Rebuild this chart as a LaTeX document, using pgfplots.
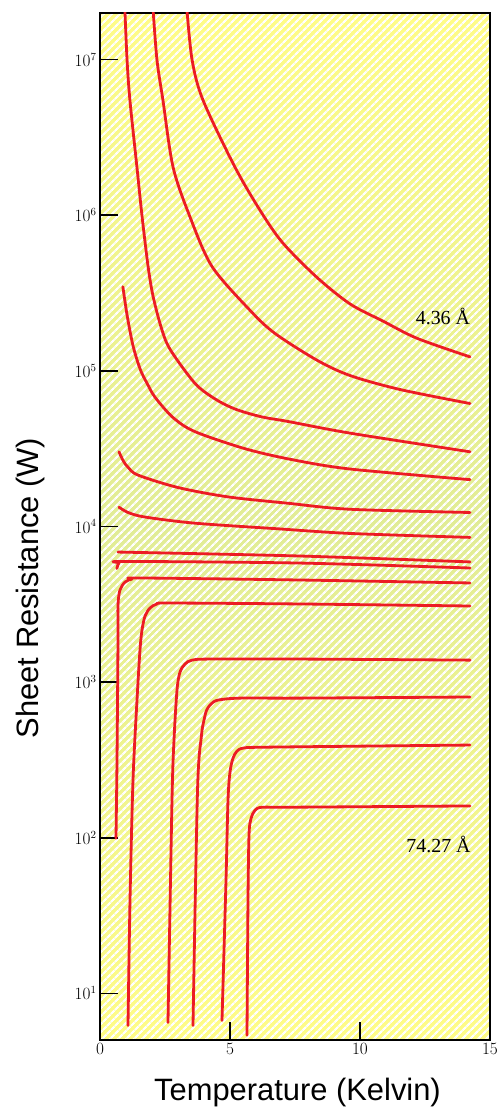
\documentclass[border=0pt]{standalone}
\usepackage{pgfplots}
\pgfplotsset{compat=1.18}
\usepackage{fontspec}
\setmainfont{Liberation Serif}
\newfontfamily\arialfont{Liberation Sans}
\usetikzlibrary{patterns.meta}
\definecolor{curvered}{RGB}{236,28,36}
\definecolor{bgyellow}{RGB}{255,252,135}
\definecolor{bggreen}{RGB}{225,236,150}
\pgfplotsset{curve/.style={color=curvered, line width=2.8bp, smooth, tension=0.5, mark=none, line join=round, line cap=round}}
\begin{document}
\begin{tikzpicture}
\useasboundingbox (0,0) rectangle (499bp,1108bp);
\begin{axis}[
  at={(100bp,68bp)}, anchor=south west,
  width=390bp, height=1027bp, scale only axis,
  xmin=0, xmax=15, ymode=log, ymin=5.012, ymax=1.995e7,
  xtick={0,5,10,15}, ytick={10,100,1000,10000,100000,1000000,10000000},
  yminorticks=false,
  tick pos=left, tick align=inside,
  major tick length=18bp,
  tick style={black, line width=1.6bp},
  axis line style={black, line width=1.3bp},
  axis background/.style={top color=bgyellow, bottom color=bgyellow, middle color=bggreen,
     postaction={pattern={Lines[angle=45,distance=6bp,line width=2.5bp]}, pattern color=white}},
  xticklabel style={font=\fontsize{18}{20}\selectfont},
  yticklabel style={font=\fontsize{16}{18}\selectfont},
]
% insulating curves
\addplot[curve] coordinates {(3.33,2.24e7)(3.54,1.0e7)(3.96,5.50e6)(5.19,2.04e6)(6.2,1.047e6)(7.04,6.61e5)(8.35,3.98e5)(9.62,2.69e5)(10.88,2.09e5)(12.19,1.62e5)(14.23,1.23e5)};
\addplot[curve] coordinates {(2.03,2.24e7)(2.19,1.0e7)(2.42,5.50e6)(2.81,2.04e6)(3.46,9.77e5)(4.31,4.68e5)(5.77,2.45e5)(6.73,1.74e5)(8.35,1.17e5)(9.62,9.33e4)(11.54,7.59e4)(14.23,6.17e4)};
\addplot[curve] coordinates {(0.95,2.24e7)(1.04,1.0e7)(1.15,5.50e6)(1.42,2.04e6)(1.62,9.77e5)(1.85,4.68e5)(2.04,3.02e5)(2.35,1.91e5)(2.69,1.38e5)(3.65,8.32e4)(4.42,6.61e4)(5.19,5.69e4)(6.2,5.07e4)(7.23,4.73e4)(9.62,3.98e4)(14.23,3.02e4)};
\addplot[curve] coordinates {(0.88,3.47e5)(1.04,2.29e5)(1.27,1.45e5)(1.55,1.02e5)(1.81,8.32e4)(2.12,6.76e4)(2.81,5.01e4)(3.65,4.07e4)(5.58,3.16e4)(7.38,2.69e4)(9.62,2.34e4)(14.23,2.00e4)};
\addplot[curve] coordinates {(0.73,3.02e4)(0.9,2.63e4)(1.08,2.40e4)(1.46,2.14e4)(3.0,1.78e4)(4.92,1.55e4)(7.23,1.41e4)(9.62,1.29e4)(14.23,1.23e4)};
\addplot[curve] coordinates {(0.73,1.33e4)(1.08,1.23e4)(1.73,1.15e4)(3.65,1.05e4)(6.85,9.66e3)(9.62,9.02e3)(14.23,8.51e3)};
% near-critical curves
\addplot[curve] coordinates {(0.69,6.85e3)(7.69,6.46e3)(14.23,5.92e3)};
\addplot[curve] coordinates {(0.65,5.37e3)(0.73,5.82e3)(1.0,5.96e3)(7.69,5.82e3)(14.23,5.41e3)};
% superconducting curves
\addplot[curve] coordinates {(0.615,99.3)(0.654,315)(0.692,1862)(0.692,3126)(0.769,3908)(0.962,4395)(1.231,4592)(1.538,4667)(7.692,4529)(14.23,4335)};
\addplot[curve] coordinates {(1.077,6.22)(1.154,39.6)(1.269,234)(1.423,766)(1.538,1607)(1.615,2158)(1.731,2655)(1.923,2992)(2.192,3177)(2.692,3221)(7.692,3177)(14.23,3083)};
\addplot[curve] coordinates {(2.615,6.50)(2.769,174)(2.846,424)(2.962,889)(3.077,1159)(3.269,1306)(3.538,1384)(4.231,1406)(7.692,1406)(14.23,1384)};
\addplot[curve] coordinates {(3.577,6.22)(3.75,200)(3.90,450)(4.0,570)(4.1,660)(4.269,723)(4.538,766)(5.385,789)(7.692,789)(14.23,802)};
\addplot[curve] coordinates {(4.692,6.70)(4.846,53.3)(4.923,174)(5.0,264)(5.115,324)(5.269,360)(5.538,377)(6.538,382)(14.23,394)};
\addplot[curve] coordinates {(5.654,5.37)(5.692,39.6)(5.731,104)(5.808,133)(5.962,150)(6.231,157)(7.308,157)(14.23,160)};
\node[anchor=base, font=\fontsize{20}{22}\selectfont] at (axis cs:13.19,1.98e5) {4.36 Å};
\node[anchor=base, font=\fontsize{20}{22}\selectfont] at (axis cs:13.02,80.8) {74.27 Å};
\end{axis}
\node[rotate=90, anchor=base, font=\arialfont\fontsize{31}{36}\selectfont] at (38bp,520bp) {Sheet Resistance (W)};
\node[anchor=base, font=\arialfont\fontsize{31}{36}\selectfont] at (297.5bp,8bp) {Temperature (Kelvin)};
\end{tikzpicture}
\end{document}
